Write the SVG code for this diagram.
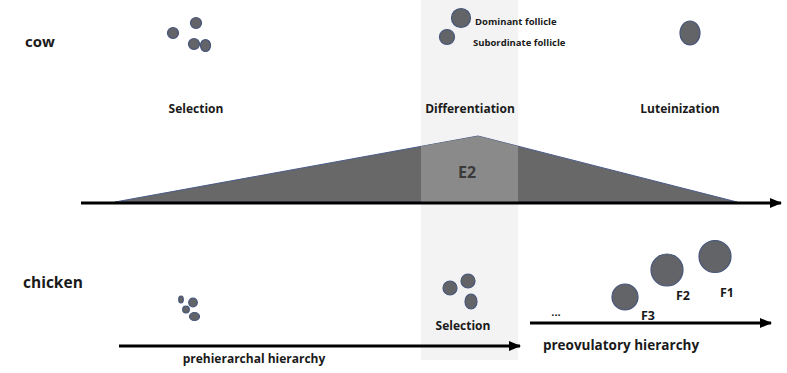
<svg xmlns="http://www.w3.org/2000/svg" width="787" height="373" viewBox="0 0 787 373">
<defs>
<style>
.t{font-family:"Open Sans","Liberation Sans",sans-serif;font-weight:bold;fill:#1a1a1a}
.f{fill:#626468;stroke:#46557a;stroke-width:1.2}
.ax{stroke:#000;stroke-width:3;fill:none}
</style>
<marker id="ah" markerWidth="12" markerHeight="10" refX="11" refY="5" orient="auto" markerUnits="userSpaceOnUse"><path d="M0,0 L12,5 L0,10 Z" fill="#000"/></marker>
<clipPath id="band"><rect x="421" y="0" width="97" height="360"/></clipPath>
</defs>
<rect width="787" height="373" fill="#fff"/>
<rect id="band-bg" x="421" y="0" width="97" height="360" fill="#f3f3f3"/>

<g id="e2">
<polygon points="115,202 478,136 737,202" fill="#686868" stroke="#4a5a88" stroke-width="1"/>
<polygon points="115,202 478,136 737,202" fill="#8a8a8a" clip-path="url(#band)"/>
<text class="t" x="467" y="178" font-size="16" text-anchor="middle" style="fill:#3a3a3a">E2</text>
</g>

<g id="connectors">
<line class="ax" x1="81" y1="203" x2="781" y2="203" marker-end="url(#ah)"/>
<line class="ax" x1="119" y1="346" x2="520" y2="346" stroke-width="2.5" marker-end="url(#ah)"/>
<line class="ax" x1="530" y1="323" x2="771" y2="323" stroke-width="2.5" marker-end="url(#ah)"/>
</g>

<g id="cow"><text class="t" x="25" y="47" font-size="15">cow</text></g>
<g id="chicken"><text class="t" x="23" y="288" font-size="15.5">chicken</text></g>

<g id="selection-cow">
<circle class="f" cx="173" cy="33" r="5.5"/>
<circle class="f" cx="196" cy="23" r="5.5"/>
<circle class="f" cx="194" cy="44" r="5.5"/>
<ellipse class="f" cx="205.5" cy="45.5" rx="5" ry="6"/>
<text class="t" x="196" y="113" font-size="12" text-anchor="middle">Selection</text>
</g>

<g id="differentiation">
<circle class="f" cx="461" cy="18" r="9.5"/>
<circle class="f" cx="447" cy="37" r="7.5"/>
<text class="t" x="475" y="25" font-size="9.5">Dominant follicle</text>
<text class="t" x="473" y="46" font-size="9.5">Subordinate follicle</text>
<text class="t" x="470" y="113" font-size="12" text-anchor="middle">Differentiation</text>
</g>

<g id="luteinization">
<ellipse class="f" cx="690" cy="33" rx="10" ry="12"/>
<text class="t" x="680" y="113" font-size="12" text-anchor="middle">Luteinization</text>
</g>

<g id="prehierarchal">
<ellipse class="f" cx="181" cy="299.5" rx="2.3" ry="3.5"/>
<circle class="f" cx="193" cy="302.5" r="4.3"/>
<circle class="f" cx="186" cy="309.5" r="3.3"/>
<ellipse class="f" cx="194.5" cy="316.5" rx="5" ry="4"/>
<text class="t" x="254" y="363" font-size="12" text-anchor="middle">prehierarchal hierarchy</text>
</g>

<g id="selection-chicken">
<circle class="f" cx="450" cy="288" r="7"/>
<circle class="f" cx="468" cy="281" r="7"/>
<ellipse class="f" cx="471" cy="301.5" rx="6" ry="7.5"/>
<text class="t" x="463" y="330" font-size="12" text-anchor="middle">Selection</text>
</g>

<g id="preovulatory">
<text class="t" x="556" y="316" font-size="11" text-anchor="middle">...</text>
<circle class="f" cx="625" cy="297" r="13"/>
<circle class="f" cx="667" cy="270" r="16"/>
<circle class="f" cx="715" cy="256.5" r="16"/>
<text class="t" x="648" y="320" font-size="12.5" text-anchor="middle">F3</text>
<text class="t" x="683" y="300" font-size="12.5" text-anchor="middle">F2</text>
<text class="t" x="727" y="297" font-size="12.5" text-anchor="middle">F1</text>
<text class="t" x="621" y="350" font-size="13.5" text-anchor="middle">preovulatory hierarchy</text>
</g>
</svg>
